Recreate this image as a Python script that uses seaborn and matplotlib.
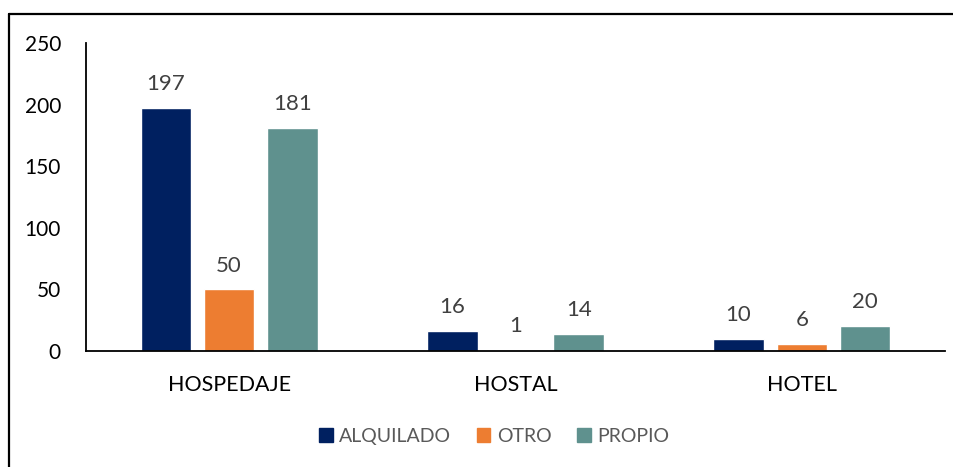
"""Bar chart: establishments by type and tenure."""
import matplotlib
matplotlib.use('Agg')
import matplotlib.pyplot as plt
from matplotlib.lines import Line2D
import pandas as pd
import seaborn as sns

categorias = ['HOSPEDAJE', 'HOSTAL', 'HOTEL']
alquilado = [197, 16, 10]
otro = [50, 1, 6]
propio = [181, 14, 20]
series = ['ALQUILADO', 'OTRO', 'PROPIO']
colores = ['#002060', '#ED7D31', '#5F918E']
yticks = [0, 50, 100, 150, 200, 250]

df = pd.DataFrame({
    'tipo': categorias * 3,
    'tenencia': [s for s in series for _ in categorias],
    'valor': alquilado + otro + propio,
})

sns.set_theme(style='white')
plt.rcParams['font.family'] = ['Lato', 'DejaVu Sans']

fig = plt.figure(figsize=(9.54, 4.67), dpi=100)
ax = fig.add_axes([0.0901, 0.2484, 0.9005, 0.6595])

sns.barplot(data=df, x='tipo', y='valor', hue='tenencia', order=categorias,
            hue_order=series, palette=colores, saturation=1,
            width=0.663, gap=0.2, ax=ax)

for c in ax.containers:
    ax.bar_label(c, fmt='%d', padding=10, fontsize=16, color='#404040')

ax.set_ylim(0, 250)
ax.set_yticks(yticks)
ax.set_xlim(-0.5, 2.5)
ax.set_xlabel('')
ax.set_ylabel('')
ax.tick_params(axis='y', length=0, pad=18, labelsize=15, labelcolor='black')
ax.tick_params(axis='x', length=0, pad=17, labelsize=15.5, labelcolor='black')

for side in ['top', 'right']:
    ax.spines[side].set_visible(False)
for side in ['left', 'bottom']:
    ax.spines[side].set_color('black')
    ax.spines[side].set_linewidth(1.3)

ax.get_legend().remove()
handles = [plt.Rectangle((0, 0), 1, 1, color=c) for c in colores]
leg = fig.legend(handles, series, loc='center', bbox_to_anchor=(0.518, 0.066),
                 ncol=3, frameon=False, fontsize=14, handlelength=0.7,
                 handleheight=0.7, handletextpad=0.35, columnspacing=1.3)
for t in leg.get_texts():
    t.set_color('#595959')

# chart border (only left and top edges are visible in the crop)
fig.add_artist(Line2D([0.0099, 0.0099], [0.0, 0.971], color='black', lw=1.6,
                      transform=fig.transFigure))
fig.add_artist(Line2D([0.0099, 1.0], [0.971, 0.971], color='black', lw=1.6,
                      transform=fig.transFigure))

fig.savefig('out.png', dpi=100)
